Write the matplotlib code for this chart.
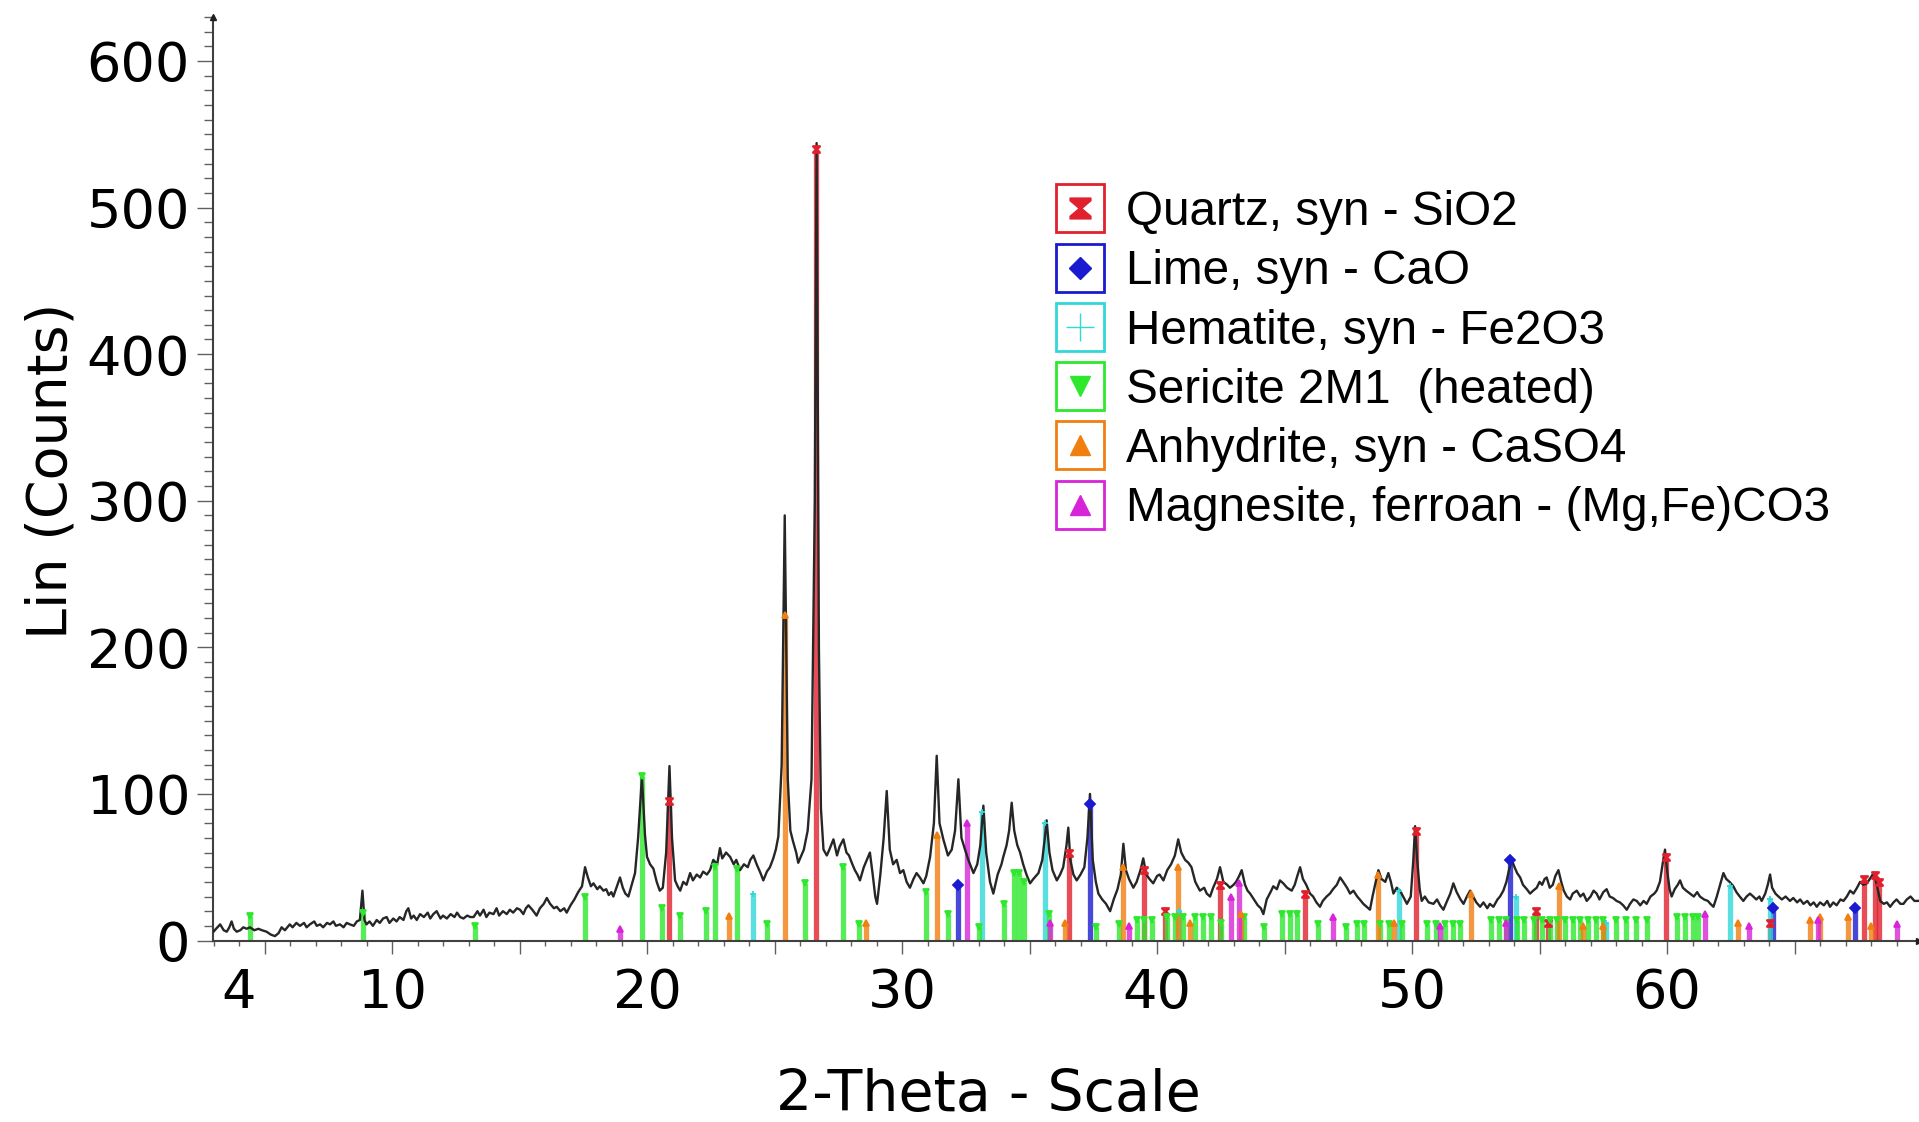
import matplotlib
matplotlib.use("Agg")
import matplotlib.pyplot as plt
from matplotlib.path import Path
from matplotlib.lines import Line2D
from matplotlib.ticker import FixedLocator

# ---------------- measured pattern (2-Theta, Lin counts) ----------------
two_theta = [
    3.00, 3.10, 3.26, 3.40, 3.52, 3.62, 3.71, 3.80, 3.91, 4.05, 4.17, 4.30, 4.43, 4.60, 4.76, 4.90,
    5.08, 5.25, 5.41, 5.55, 5.67, 5.80, 5.99, 6.10, 6.25, 6.39, 6.55, 6.65, 6.78, 6.95, 7.05, 7.18,
    7.30, 7.45, 7.57, 7.70, 7.80, 7.96, 8.10, 8.22, 8.35, 8.50, 8.62, 8.74, 8.84, 8.92, 9.00, 9.12,
    9.25, 9.40, 9.52, 9.65, 9.79, 9.90, 10.05, 10.18, 10.30, 10.45, 10.56, 10.64, 10.75, 10.85, 10.97,
    11.10, 11.25, 11.40, 11.50, 11.62, 11.75, 11.90, 12.00, 12.15, 12.30, 12.45, 12.55, 12.67, 12.80,
    12.95, 13.07, 13.20, 13.35, 13.45, 13.59, 13.70, 13.82, 13.98, 14.10, 14.20, 14.35, 14.50, 14.62,
    14.75, 14.90, 15.02, 15.15, 15.25, 15.35, 15.50, 15.67, 15.80, 15.95, 16.07, 16.20, 16.35, 16.46,
    16.60, 16.75, 16.85, 17.00, 17.15, 17.30, 17.45, 17.57, 17.68, 17.80, 17.90, 18.05, 18.15, 18.29,
    18.40, 18.50, 18.60, 18.68, 18.80, 18.94, 19.05, 19.15, 19.27, 19.40, 19.53, 19.65, 19.80, 19.92,
    20.00, 20.12, 20.25, 20.38, 20.50, 20.62, 20.75, 20.88, 20.98, 21.10, 21.20, 21.30, 21.42, 21.55,
    21.69, 21.80, 21.95, 22.08, 22.20, 22.35, 22.47, 22.60, 22.75, 22.86, 22.95, 23.10, 23.26, 23.40,
    23.50, 23.65, 23.80, 23.95, 24.05, 24.17, 24.30, 24.45, 24.56, 24.70, 24.82, 24.95, 25.05, 25.15,
    25.28, 25.40, 25.52, 25.62, 25.72, 25.85, 25.93, 26.05, 26.15, 26.30, 26.45, 26.58, 26.65, 26.74,
    26.82, 26.92, 27.05, 27.15, 27.31, 27.45, 27.55, 27.70, 27.82, 27.92, 28.03, 28.15, 28.25, 28.35,
    28.50, 28.62, 28.74, 28.85, 28.95, 29.02, 29.15, 29.28, 29.40, 29.52, 29.65, 29.79, 29.92, 30.05,
    30.18, 30.31, 30.45, 30.57, 30.70, 30.84, 30.95, 31.10, 31.25, 31.36, 31.47, 31.62, 31.80, 31.95,
    32.08, 32.21, 32.33, 32.47, 32.60, 32.80, 32.95, 33.07, 33.19, 33.30, 33.45, 33.58, 33.75, 33.90,
    33.97, 34.10, 34.20, 34.30, 34.40, 34.52, 34.63, 34.75, 34.88, 35.02, 35.15, 35.35, 35.50, 35.60,
    35.67, 35.78, 35.90, 36.07, 36.20, 36.32, 36.45, 36.52, 36.60, 36.72, 36.85, 37.00, 37.15, 37.27,
    37.37, 37.48, 37.60, 37.70, 37.85, 38.00, 38.16, 38.30, 38.45, 38.58, 38.68, 38.78, 38.90, 39.07,
    39.20, 39.35, 39.46, 39.58, 39.70, 39.85, 40.00, 40.10, 40.25, 40.40, 40.55, 40.70, 40.83, 40.95,
    41.10, 41.23, 41.35, 41.50, 41.68, 41.85, 41.95, 42.08, 42.20, 42.35, 42.47, 42.60, 42.75, 42.86,
    43.00, 43.10, 43.22, 43.32, 43.45, 43.55, 43.65, 43.80, 43.95, 44.07, 44.17, 44.30, 44.45, 44.56,
    44.70, 44.82, 44.95, 45.10, 45.28, 45.40, 45.50, 45.61, 45.72, 45.85, 46.00, 46.12, 46.25, 46.39,
    46.50, 46.65, 46.78, 46.90, 47.05, 47.18, 47.30, 47.45, 47.57, 47.70, 47.85, 47.95, 48.09, 48.22,
    48.35, 48.45, 48.55, 48.68, 48.80, 48.95, 49.07, 49.17, 49.27, 49.40, 49.53, 49.65, 49.80, 49.95,
    50.05, 50.12, 50.20, 50.30, 50.38, 50.50, 50.65, 50.84, 50.98, 51.10, 51.23, 51.35, 51.50, 51.62,
    51.75, 51.90, 52.02, 52.15, 52.28, 52.40, 52.52, 52.67, 52.80, 52.95, 53.05, 53.19, 53.35, 53.45,
    53.58, 53.70, 53.80, 53.91, 54.02, 54.12, 54.24, 54.35, 54.50, 54.63, 54.75, 54.89, 55.00, 55.10,
    55.20, 55.28, 55.40, 55.52, 55.62, 55.74, 55.85, 55.95, 56.07, 56.20, 56.30, 56.46, 56.60, 56.72,
    56.85, 57.00, 57.12, 57.24, 57.35, 57.50, 57.63, 57.75, 57.88, 58.02, 58.15, 58.28, 58.42, 58.55,
    58.68, 58.81, 58.95, 59.08, 59.20, 59.35, 59.50, 59.59, 59.72, 59.85, 59.92, 60.00, 60.10, 60.18,
    60.30, 60.42, 60.51, 60.62, 60.75, 60.90, 61.05, 61.18, 61.29, 61.45, 61.60, 61.70, 61.82, 61.95,
    62.08, 62.21, 62.32, 62.45, 62.60, 62.72, 62.85, 62.99, 63.12, 63.25, 63.38, 63.50, 63.62, 63.71,
    63.85, 63.95, 64.04, 64.12, 64.25, 64.37, 64.50, 64.65, 64.82, 64.95, 65.10, 65.22, 65.35, 65.50,
    65.62, 65.75, 65.87, 66.00, 66.15, 66.28, 66.39, 66.52, 66.65, 66.80, 66.92, 67.05, 67.18, 67.31,
    67.45, 67.57, 67.70, 67.84, 67.95, 68.10, 68.20, 68.30, 68.36, 68.50, 68.62, 68.75, 68.88, 69.00,
    69.15, 69.27, 69.40, 69.55, 69.70, 69.86, 70.00,
]
counts = [
    6, 8, 11, 7, 6, 9, 13, 8, 6, 7, 9, 8, 9, 7, 8, 7,
    6, 4, 3, 5, 9, 7, 11, 9, 12, 10, 12, 9, 11, 13, 10, 11,
    9, 12, 11, 13, 10, 11, 9, 12, 11, 10, 13, 14, 34, 14, 11, 13,
    10, 14, 12, 15, 16, 12, 15, 13, 16, 14, 20, 22, 15, 17, 14,
    18, 16, 19, 15, 18, 20, 15, 17, 15, 18, 16, 19, 16, 15,
    17, 16, 16, 20, 17, 21, 16, 19, 18, 22, 17, 20, 18, 21,
    19, 22, 21, 18, 22, 24, 21, 17, 22, 25, 29, 25, 22, 23,
    20, 22, 19, 24, 28, 33, 37, 50, 43, 37, 39, 35, 37, 34,
    35, 31, 33, 30, 36, 43, 36, 32, 30, 38, 46, 70, 112, 72,
    57, 52, 49, 40, 34, 36, 60, 119, 70, 41, 37, 34, 40, 38,
    46, 41, 45, 43, 47, 45, 48, 55, 52, 63, 56, 60, 57, 52,
    55, 48, 52, 50, 55, 58, 52, 46, 41, 47, 50, 56, 62, 71,
    120, 290, 110, 75, 68, 60, 53, 58, 62, 75, 110, 300, 544, 200,
    90, 62, 58, 62, 69, 58, 64, 69, 60, 58, 53, 48, 45, 41,
    50, 55, 60, 45, 30, 25, 45, 70, 102, 62, 52, 55, 46, 48,
    40, 36, 42, 46, 43, 39, 44, 57, 80, 126, 80, 69, 58, 62,
    75, 110, 70, 62, 55, 46, 52, 65, 92, 60, 40, 32, 45, 52,
    57, 65, 75, 94, 75, 65, 60, 52, 45, 39, 42, 46, 55, 70,
    82, 60, 48, 41, 45, 50, 65, 77, 55, 45, 41, 45, 50, 70,
    100, 55, 40, 32, 28, 25, 20, 28, 35, 45, 66, 48, 42, 36,
    40, 48, 56, 45, 42, 39, 44, 45, 41, 48, 52, 58, 69, 60,
    55, 53, 50, 40, 34, 36, 32, 30, 36, 42, 50, 40, 38, 36,
    38, 40, 44, 48, 38, 34, 32, 28, 24, 22, 18, 28, 33, 37,
    35, 41, 39, 36, 34, 38, 44, 50, 42, 38, 32, 30, 26, 23,
    27, 30, 32, 35, 38, 43, 40, 36, 32, 34, 30, 28, 25, 23,
    21, 30, 38, 48, 42, 40, 46, 40, 32, 36, 34, 30, 25, 30,
    55, 78, 55, 35, 27, 30, 26, 25, 28, 24, 21, 26, 32, 39,
    33, 28, 25, 30, 34, 30, 26, 23, 26, 22, 25, 23, 28, 30,
    34, 40, 48, 55, 50, 46, 43, 38, 35, 32, 34, 36, 40, 38,
    42, 43, 36, 38, 44, 48, 40, 34, 30, 28, 32, 34, 30, 32,
    27, 30, 34, 32, 28, 33, 35, 30, 29, 27, 26, 24, 21, 25,
    28, 27, 24, 27, 25, 30, 32, 34, 40, 55, 62, 48, 35, 30,
    35, 38, 41, 36, 34, 32, 30, 33, 30, 28, 27, 25, 23, 30,
    38, 46, 42, 40, 37, 33, 30, 27, 30, 32, 30, 28, 30, 27,
    32, 38, 45, 36, 32, 30, 28, 30, 27, 29, 26, 28, 25, 27,
    24, 26, 23, 26, 24, 27, 23, 26, 24, 28, 27, 30, 34, 32,
    36, 40, 38, 39, 42, 46, 40, 32, 27, 25, 26, 23, 26, 28,
    25, 25, 28, 30, 27, 27, 28,
]

# ---------------- reference sticks for each phase ----------------
quartz_pos = [20.86, 26.64, 36.54, 39.47, 40.30, 42.45, 45.79, 50.14, 54.87, 55.33, 59.96, 64.03, 67.74, 68.14, 68.32]
quartz_int = [95, 540, 60, 48, 20, 38, 32, 75, 20, 12, 57, 12, 42, 45, 40]

lime_pos = [32.20, 37.36, 53.86, 64.15, 67.38]
lime_int = [38, 93, 55, 22, 22]

hematite_pos = [24.14, 33.15, 35.61, 40.85, 49.48, 54.09, 57.59, 62.45, 64.02]
hematite_int = [32, 88, 80, 20, 34, 30, 12, 37, 28]

sericite_pos = [4.45, 8.85, 13.25, 17.57, 19.80, 20.60, 21.30, 22.30, 22.67, 23.52, 24.70, 26.20, 27.70,
                28.30, 30.95, 31.80, 33.00, 34.00, 34.40, 34.60, 34.80, 35.75, 37.60, 38.50, 39.20, 39.50,
                39.80, 40.40, 40.70, 41.00, 41.50, 41.80, 42.10, 42.50, 43.40, 44.20, 44.90, 45.20, 45.50,
                46.30, 47.40, 47.85, 48.10, 48.75, 49.10, 49.60, 50.60, 50.95, 51.30, 51.60, 51.90, 53.10,
                53.40, 53.70, 54.10, 54.40, 54.80, 55.10, 55.40, 55.70, 56.00, 56.30, 56.60, 56.90, 57.20,
                57.50, 58.00, 58.40, 58.80, 59.20, 60.40, 60.70, 61.00, 61.20]
sericite_int = [17, 19, 10, 30, 112, 22, 17, 20, 50, 49, 11, 39, 50,
                11, 33, 18, 9, 25, 46, 46, 40, 18, 9, 11, 14, 14,
                14, 16, 16, 16, 16, 16, 16, 12, 16, 9, 18, 18, 18,
                11, 9, 11, 11, 11, 11, 11, 11, 11, 11, 11, 11, 14,
                14, 14, 14, 14, 14, 14, 14, 14, 14, 14, 14, 14, 14,
                14, 14, 14, 14, 14, 16, 16, 16, 16]

anhydrite_pos = [23.20, 25.42, 28.60, 31.38, 36.40, 38.66, 40.82, 41.30, 43.30, 48.65, 49.30, 52.30, 55.75,
                 56.70, 57.50, 62.80, 65.60, 66.00, 67.10, 68.00]
anhydrite_int = [17, 222, 12, 72, 12, 50, 50, 12, 18, 45, 12, 32, 37,
                 10, 10, 12, 14, 16, 16, 10]

magnesite_pos = [18.94, 32.55, 35.80, 38.90, 42.90, 43.20, 46.90, 51.10, 53.70, 61.50, 63.20, 65.90, 69.00]
magnesite_int = [8, 80, 12, 10, 30, 39, 16, 10, 12, 18, 10, 14, 11]

phase_names = ["Quartz, syn - SiO2", "Lime, syn - CaO", "Hematite, syn - Fe2O3",
               "Sericite 2M1  (heated)", "Anhydrite, syn - CaSO4", "Magnesite, ferroan - (Mg,Fe)CO3"]
phase_colors = ["#e0202c", "#1a1ad0", "#30d8d8", "#2ee82e", "#f07f10", "#d824d8"]

y_ticks = [0, 100, 200, 300, 400, 500, 600]
x_major = [5, 10, 15, 20, 25, 30, 35, 40, 45, 50, 55, 60, 65]
x_labels = {10: "10", 20: "20", 30: "30", 40: "40", 50: "50", 60: "60"}

# hourglass marker for quartz
hourglass = Path([(-1, 1), (1, 1), (1, 0.75), (0.12, 0), (1, -0.75), (1, -1), (-1, -1),
                  (-1, -0.75), (-0.12, 0), (-1, 0.75), (-1, 1)], closed=True)
phase_markers = [hourglass, "D", "+", "v", "^", "^"]

phases = [(quartz_pos, quartz_int), (lime_pos, lime_int), (hematite_pos, hematite_int),
          (sericite_pos, sericite_int), (anhydrite_pos, anhydrite_int), (magnesite_pos, magnesite_int)]

plt.rcParams["font.family"] = ["DejaVu Sans"]

fig = plt.figure(figsize=(19.19, 11.22), dpi=100)
ax = fig.add_axes([213 / 1919, 181.5 / 1122, 1706 / 1919, 923.5 / 1122])

# sticks under the pattern
for (pos, inten), col, mk in zip(phases, phase_colors, phase_markers):
    ax.vlines(pos, 0, inten, colors=col, lw=3.8, alpha=0.8, zorder=2)
    ax.plot(pos, inten, ls="", marker=mk, color=col, ms=5, mew=1.3, zorder=5)

ax.plot(two_theta, counts, color="#262626", lw=1.7, zorder=4)

ax.set_xlim(2.98, 69.88)
ax.set_ylim(0, 630)

for s in ("top", "right"):
    ax.spines[s].set_visible(False)
for s in ("left", "bottom"):
    ax.spines[s].set_color("#404040")
    ax.spines[s].set_linewidth(1.5)

# y ticks
ax.set_yticks(y_ticks)
ax.set_yticklabels([str(v) for v in y_ticks])
ax.yaxis.set_minor_locator(FixedLocator([v for v in range(0, 631, 10) if v % 100]))
ax.tick_params(axis="y", which="major", length=11.5, width=1, color="#606060", pad=5, labelsize=39)
ax.tick_params(axis="y", which="minor", length=6.5, width=1, color="#606060")

# x ticks
ax.set_xticks(x_major)
ax.set_xticklabels([x_labels.get(v, "") for v in x_major])
minor_x = [v for v in range(3, 70) if v % 5]
ax.set_xticks(minor_x, minor=True)
ax.set_xticklabels(["4" if v == 4 else "" for v in minor_x], minor=True)
ax.tick_params(axis="x", which="major", length=9.4, width=1, color="#606060", pad=10, labelsize=39)
ax.tick_params(axis="x", which="minor", length=3.6, width=1, color="#606060", pad=15.8, labelsize=39)

ax.set_xlabel("2-Theta - Scale", fontsize=41)
ax.set_ylabel("Lin (Counts)", fontsize=40)
ax.xaxis.label.set_verticalalignment("center")
ax.yaxis.label.set_verticalalignment("center")
ax.xaxis.set_label_coords(0.4543, -0.1673)
ax.yaxis.set_label_coords(-0.0945, 0.508)

# small arrow heads at axis ends
ax.plot([0], [1], transform=ax.transAxes, marker="^", ms=5, color="#202020", clip_on=False, zorder=6)
ax.plot([1], [0], transform=ax.transAxes, marker=">", ms=5, color="#202020", clip_on=False, zorder=6)

# legend: coloured frame box with phase symbol inside
handles = []
for col, mk, nm in zip(phase_colors, phase_markers, phase_names):
    box = Line2D([], [], ls="", marker="s", ms=35, mfc="white", mec=col, mew=2.0)
    if mk == "+":
        sym = Line2D([], [], ls="", marker="+", ms=20, color=col, mew=1.0)
    elif mk == "D":
        sym = Line2D([], [], ls="", marker="D", ms=11, color=col)
    else:
        sym = Line2D([], [], ls="", marker=mk, ms=15, color=col)
    handles.append((box, sym))

leg = ax.legend(handles, phase_names, loc="upper left",
                bbox_to_anchor=(1056 / 1919, 1 - 190 / 1122), bbox_transform=fig.transFigure,
                frameon=False, borderpad=0, borderaxespad=0, handlelength=1.0,
                handletextpad=0.475, labelspacing=0.30,
                prop={"family": "Liberation Sans", "size": 34.3})

fig.savefig("out.png", dpi=100)
